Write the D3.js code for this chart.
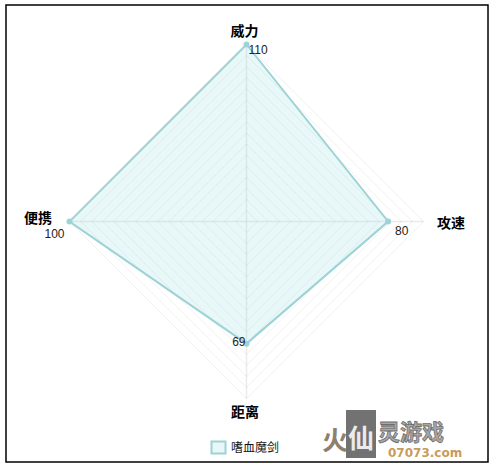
<!DOCTYPE html>
<html><head><meta charset="utf-8">
<script src="https://cdn.jsdelivr.net/npm/d3@7"></script>
<style>
html,body{margin:0;padding:0;background:#fff;}
svg{display:block;}
</style></head>
<body>
<svg id="c" width="493" height="468"></svg>
<script>
const axes = ["威力", "攻速", "距离", "便携"];
const values = [110, 80, 69, 100];
const seriesName = "嗜血魔剑";
const scaleMax = 100;
const ringCount = 16;

const svg = d3.select("#c");
const cx = 246.5, cy = 221.5, R = 177;
const r = d3.scaleLinear().domain([0, scaleMax]).range([0, R]).clamp(true);
const ang = d3.scaleLinear().domain([0, axes.length]).range([0, 2*Math.PI]);
const pt = (i, v) => [cx + r(v)*Math.sin(ang(i)), cy - r(v)*Math.cos(ang(i))];

// border
svg.append("rect").attr("x",6).attr("y",5).attr("width",482).attr("height",457)
  .attr("fill","#fff").attr("stroke","#000").attr("stroke-width",1.5);

const g = svg.append("g");
// rings
const ringVals = d3.range(1, ringCount+1).map(k => k*scaleMax/ringCount);
g.selectAll("path.ring").data(ringVals).join("path").attr("class","ring")
  .attr("d", v => d3.line()(axes.map((a,i)=>pt(i,v))) + "Z")
  .attr("fill","none").attr("stroke","rgba(0,0,0,0.06)").attr("stroke-width",1);
// spokes
g.selectAll("line.spoke").data(axes).join("line")
  .attr("x1",cx).attr("y1",cy)
  .attr("x2",(d,i)=>pt(i,scaleMax)[0]).attr("y2",(d,i)=>pt(i,scaleMax)[1])
  .attr("stroke","rgba(0,0,0,0.08)").attr("stroke-width",1.5);

// data polygon
const pts = values.map((v,i)=>pt(i,v));
g.append("path").attr("d", d3.line()(pts)+"Z")
  .attr("fill","rgba(151,218,220,0.22)").attr("stroke","#9dd3d6").attr("stroke-width",2);
g.selectAll("circle.p").data(pts).join("circle")
  .attr("cx",d=>d[0]).attr("cy",d=>d[1]).attr("r",3).attr("fill","#9dd3d6");

// axis labels
const lblFont = "'Noto Sans CJK SC', sans-serif";
const labelPos = [
  {x:cx-2, y:36, a:"middle"},
  {x:437, y:228, a:"start"},
  {x:245, y:417, a:"middle"},
  {x:24, y:223, a:"start"}
];
axes.forEach((a,i)=>{
  svg.append("text").attr("x",labelPos[i].x).attr("y",labelPos[i].y)
    .attr("text-anchor",labelPos[i].a).attr("font-family",lblFont)
    .attr("font-weight","bold").attr("font-size",14).attr("fill","#000").text(a);
});

// value labels
const valOff = [
  {dx:2, dy:9, a:"start"},
  {dx:7, dy:13, a:"start"},
  {dx:-1, dy:2, a:"end"},
  {dx:-5, dy:16.5, a:"end"}
];
values.forEach((v,i)=>{
  svg.append("text").attr("x",pts[i][0]+valOff[i].dx).attr("y",pts[i][1]+valOff[i].dy)
    .attr("text-anchor",valOff[i].a).attr("font-family","'Liberation Sans', Arial, sans-serif")
    .attr("font-size",12).attr("fill","#222").text(v);
});

// legend
svg.append("rect").attr("x",211.5).attr("y",441.5).attr("width",14).attr("height",12)
  .attr("fill","rgba(151,218,220,0.22)").attr("stroke","#9dd3d6").attr("stroke-width",2);
svg.append("text").attr("x",231).attr("y",452).attr("font-family",lblFont)
  .attr("font-size",12).attr("fill","#111").text(seriesName);

// watermark approximation
const wm = svg.append("g").attr("opacity",0.85);
wm.append("text").attr("x",322).attr("y",450).attr("font-family",lblFont)
  .attr("font-weight","bold").attr("font-size",26).attr("fill","#7a6a58").text("火");
wm.append("rect").attr("x",346).attr("y",410).attr("width",30).attr("height",48).attr("fill","#5a5a5a");
wm.append("text").attr("x",361).attr("y",448).attr("text-anchor","middle").attr("font-family",lblFont)
  .attr("font-weight","bold").attr("font-size",26).attr("fill","#e8e8e8").text("仙");
wm.append("text").attr("x",378).attr("y",440).attr("font-family",lblFont)
  .attr("font-weight","bold").attr("font-size",22).attr("fill","#9a9a9a").attr("stroke","#555").attr("stroke-width",0.8).text("灵游戏");
wm.append("text").attr("x",388).attr("y",457).attr("font-family","'DejaVu Sans', sans-serif")
  .attr("font-weight","bold").attr("font-size",12).attr("fill","#c08a40").text("07073.com");
</script>
</body></html>
